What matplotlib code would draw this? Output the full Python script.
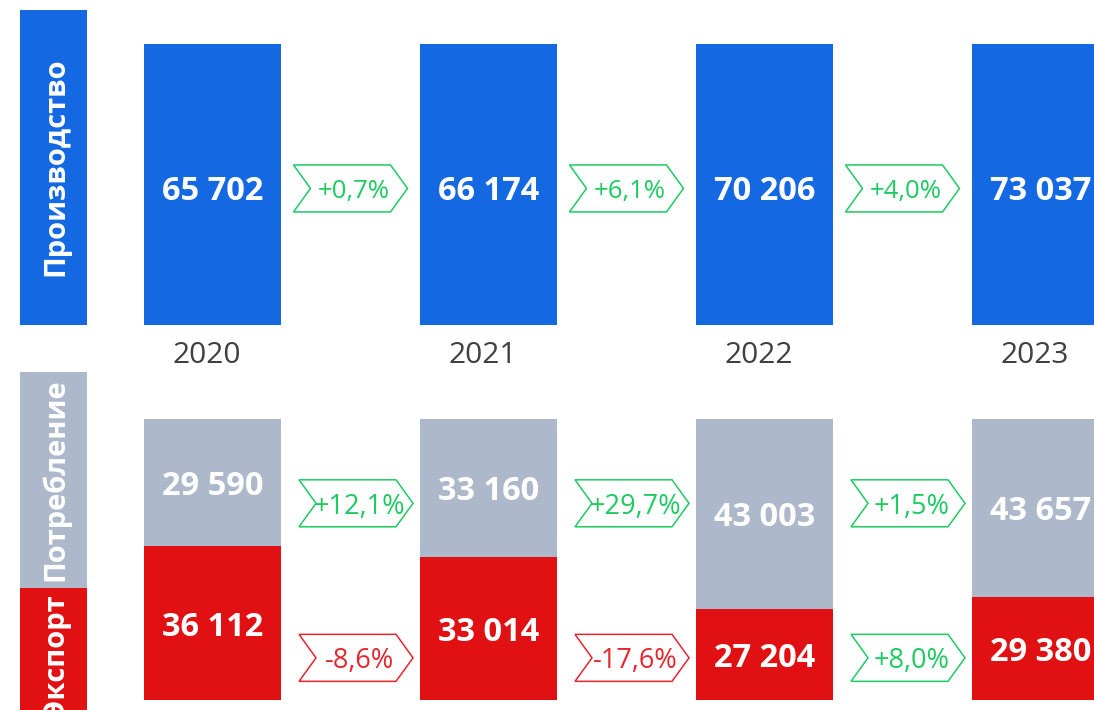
import matplotlib.pyplot as plt
from matplotlib.patches import Polygon, Rectangle

plt.rcParams["font.family"] = ["Open Sans", "DejaVu Sans"]

# Data
years = ["2020", "2021", "2022", "2023"]
production = [65702, 66174, 70206, 73037]
consumption = [29590, 33160, 43003, 43657]
export = [36112, 33014, 27204, 29380]
# export share of the lower bars as drawn in the reference
export_share = [0.548, 0.509, 0.324, 0.367]
prod_change = ["+0,7%", "+6,1%", "+4,0%"]
cons_change = ["+12,1%", "+29,7%", "+1,5%"]
exp_change = ["-8,6%", "-17,6%", "+8,0%"]

BLUE = "#1469E3"
GRAY = "#ADB8CA"
RED = "#E11013"
GREEN = "#1DCB61"
CHEV_RED = "#E8242C"

W, H = 1094, 710
fig = plt.figure(figsize=(W / 100, H / 100), dpi=100)

# pixel mapping: bar centers every 276 px starting at 212.5 px
x0_px, step_px = 212.5, 276.0
xlim = (-x0_px / step_px, (W - x0_px) / step_px)
bar_w = 137 / step_px


def add_axes_px(top, bottom):
    return fig.add_axes([0, 1 - bottom / H, 1, (bottom - top) / H])


def fmt(v):
    return f"{v:,}".replace(",", " ")


def chevron(ax, xc, yc, text, color, fontsize):
    w = 114 / step_px
    h = 47 / 281
    d = 17 / step_px
    xl, xr = xc - w / 2, xc + w / 2
    pts = [(xl, yc + h / 2), (xr - d, yc + h / 2), (xr, yc), (xr - d, yc - h / 2),
           (xl, yc - h / 2), (xl + d, yc)]
    ax.add_patch(Polygon(pts, closed=True, facecolor="white", edgecolor=color,
                         linewidth=1.1, zorder=3))
    ax.text(xc + d * 0.2, yc, text, color=color, fontsize=fontsize,
            ha="center", va="center_baseline", zorder=4)


x = list(range(len(years)))
label_kw = dict(color="white", fontsize=23.5, fontweight="bold",
                ha="center", va="center_baseline")

# Top panel: production
ax1 = add_axes_px(44, 325)
ax1.bar(x, [1] * len(production), width=bar_w, color=BLUE, align="center")
for i, v in enumerate(production):
    ax1.text(i, 0.49, fmt(v), **label_kw)
    ax1.text(i - 0.02, -0.095, years[i], color="#404040", fontsize=21.5,
             ha="center", va="center_baseline")
for i, t in enumerate(prod_change):
    chevron(ax1, i + 0.5, 0.486, t, GREEN, 18.5)
ax1.set_xlim(*xlim)
ax1.set_ylim(0, 1)
ax1.axis("off")

# Bottom panel: export + consumption
ax2 = add_axes_px(419, 700)
cons_share = [1 - s for s in export_share]
ax2.bar(x, export_share, width=bar_w, color=RED)
ax2.bar(x, cons_share, bottom=export_share, width=bar_w, color=GRAY)
for i in x:
    ax2.text(i, export_share[i] / 2, fmt(export[i]), **label_kw)
    ax2.text(i, export_share[i] + cons_share[i] / 2, fmt(consumption[i]), **label_kw)
for i in range(len(cons_change)):
    chevron(ax2, i + 0.5 + 0.02, 0.70, cons_change[i], GREEN, 19.5)
    c = GREEN if exp_change[i].startswith("+") else CHEV_RED
    chevron(ax2, i + 0.5 + 0.02, 0.15, exp_change[i], c, 19.5)
ax2.set_xlim(*xlim)
ax2.set_ylim(0, 1)
ax2.axis("off")


# Left side labels
def side_label(top, bottom, color, text, ycenter=None):
    fig.add_artist(Rectangle((20 / W, 1 - bottom / H), 67 / W, (bottom - top) / H,
                             transform=fig.transFigure, facecolor=color, edgecolor="none"))
    yc = (top + bottom) / 2 if ycenter is None else ycenter
    fig.text(56 / W, 1 - yc / H, text, rotation=90, color="white", fontsize=21,
             fontweight="bold", ha="center", va="center")


side_label(10, 325, BLUE, "Производство", 167)
side_label(372, 588, GRAY, "Потребление", 480)
side_label(588, 740, RED, "Экспорт", 656)

fig.savefig("out.png", dpi=100)
